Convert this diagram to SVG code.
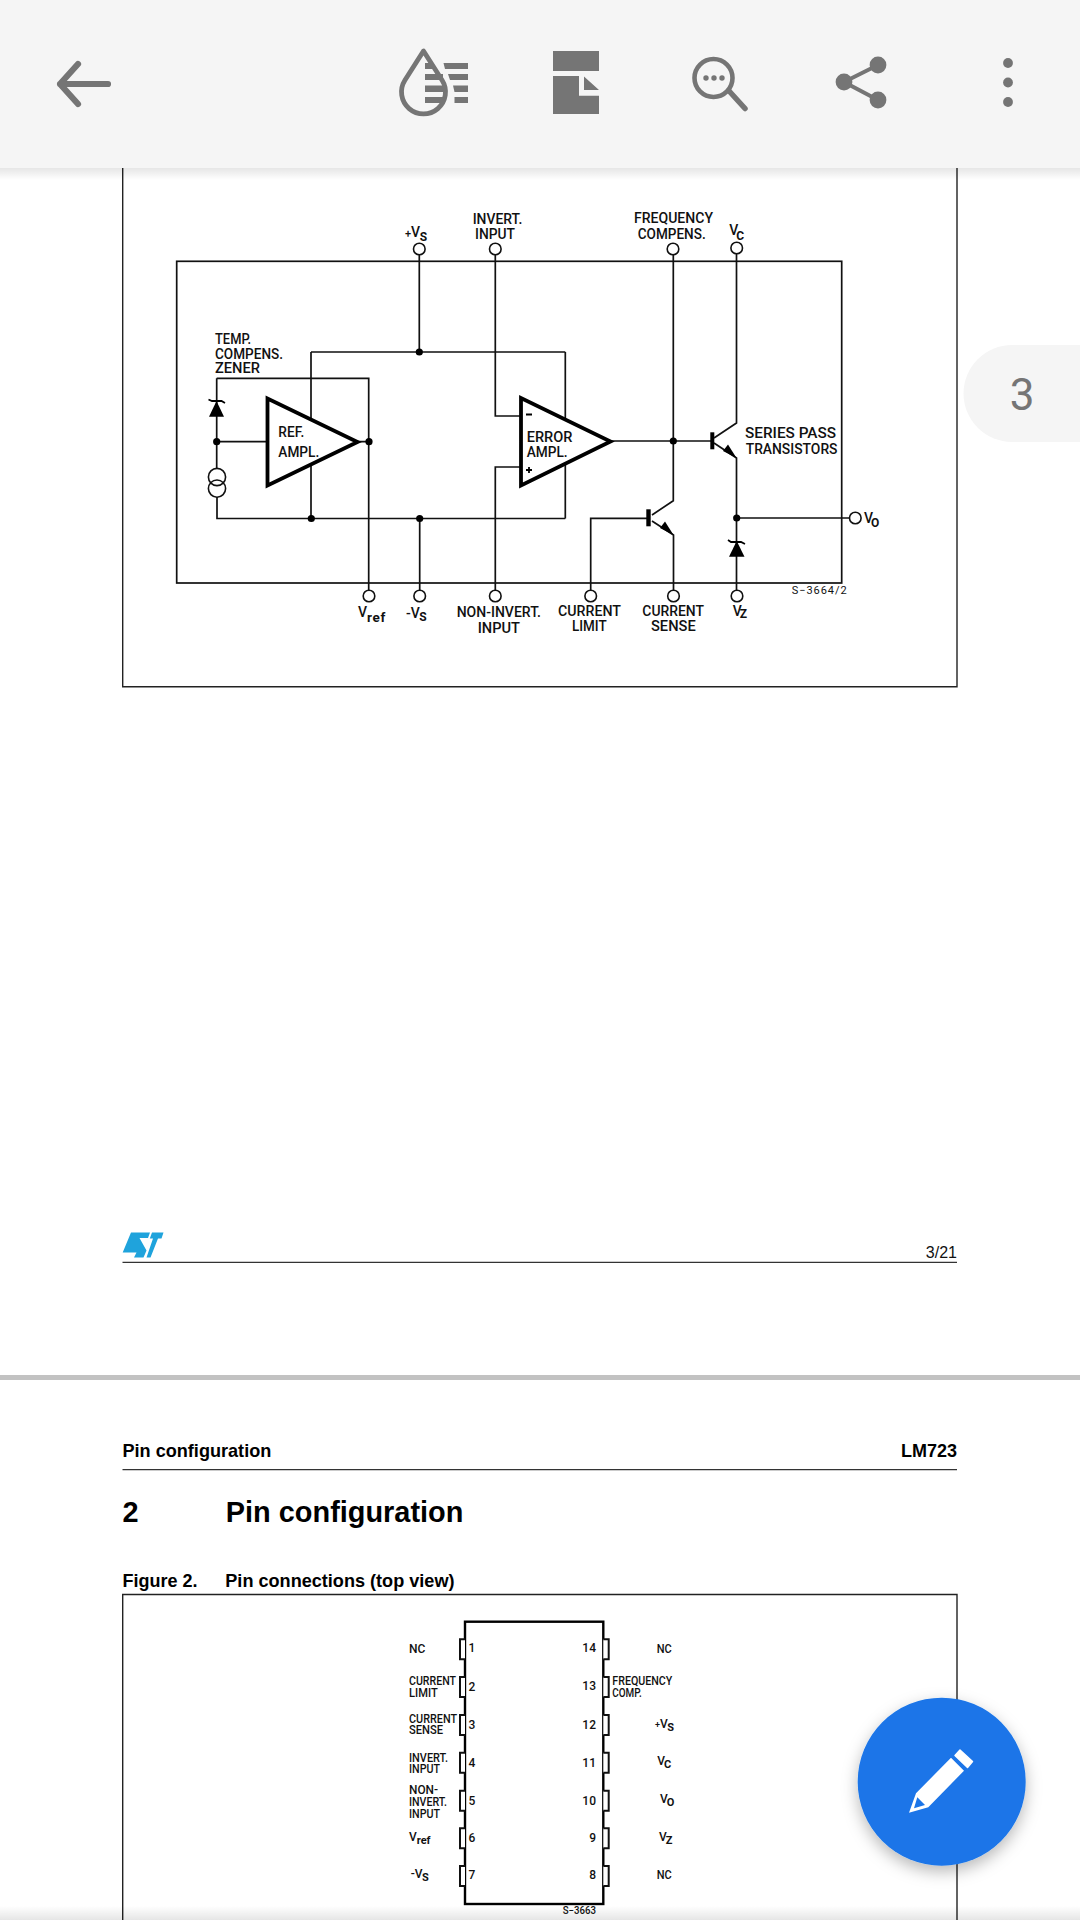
<svg xmlns="http://www.w3.org/2000/svg" width="1080" height="1920" viewBox="0 0 1080 1920">
<style>
.w{fill:none;stroke:#111;stroke-width:1.7}
.f{fill:none;stroke:#222;stroke-width:1.4}
.pin{fill:#fff;stroke:#111;stroke-width:1.6}
.d{fill:#000}
.amp{fill:#fff;stroke:#000;stroke-width:3.8;stroke-linejoin:miter}
.t{font-family:"Roboto","Liberation Sans",sans-serif;font-size:14px;font-weight:500;fill:#111}
.s{font-family:"Roboto","Liberation Sans",sans-serif;font-size:12px;font-weight:500;fill:#111}
.sub{font-size:12px;font-weight:700}
.h{font-family:"Liberation Sans",Arial,sans-serif;font-weight:700;fill:#000}
.ic{fill:#757575}
.is{fill:none;stroke:#757575;stroke-linecap:round}
.tab{fill:#fff;stroke:#111;stroke-width:2}
.chip{fill:#fff;stroke:#000;stroke-width:2.4}
</style>
<defs>
<linearGradient id="g1" x1="0" y1="0" x2="0" y2="1"><stop offset="0" stop-color="#000" stop-opacity=".1"/><stop offset="1" stop-color="#000" stop-opacity="0"/></linearGradient>
<linearGradient id="g2" x1="0" y1="0" x2="0" y2="1"><stop offset="0" stop-color="#000" stop-opacity="0"/><stop offset="1" stop-color="#000" stop-opacity=".1"/></linearGradient>
<filter id="sh" x="-30%" y="-30%" width="160%" height="170%"><feDropShadow dx="0" dy="6" stdDeviation="8" flood-color="#000" flood-opacity=".28"/></filter>
</defs>
<rect width="1080" height="1920" fill="#fff"/>

<g id="page-frames">
<path class="f" d="M122.7 160V686.7H957V160"/>
<path class="f" d="M122.7 1920V1594.5H957V1920"/>
<path d="M122.5 1262.3H957M122.5 1469.7H957" stroke="#333" stroke-width="1.3" fill="none"/>
<rect x="0" y="1375" width="1080" height="5" fill="#c2c2c2"/>
</g>

<g id="connectors">
<rect x="176.7" y="261.3" width="665" height="321.7" class="w"/>
<path class="w" d="M419.3 255V352M311 352H565.3M311 352V518.5M565.3 352V518.5M216.7 378.3H368.7V590M216.7 378.3V468M216.7 441.7H268M217 497V518.5H565.3M419.7 518.5V590M355 441.7H369"/>
<path class="w" d="M495.3 255V416H521M521 467H495.3V590"/>
<path class="w" d="M608 441H712M673.3 255V500.7L652 515M652 521L673.5 535V590M648 518.3H590.7V590"/>
<path class="w" d="M736.5 254V423L714 438M714 443L736.5 458V590M736.5 518H850"/>
<polygon class="d" points="736.5,458 723,451 728,444.5"/>
<polygon class="d" points="673.5,535 660,528 665,521.5"/>
</g>

<g id="ref-ampl">
<polygon class="amp" points="267.5,398.5 267.5,485.5 357.5,442"/>
<text class="t" x="278.3" y="437.3" textLength="26" lengthAdjust="spacingAndGlyphs">REF.</text>
<text class="t" x="278.3" y="456.7" textLength="41" lengthAdjust="spacingAndGlyphs">AMPL.</text>
</g>
<g id="error-ampl">
<polygon class="amp" points="521,398 521,485.5 610.5,441.5"/>
<text class="t" x="526.7" y="442.3" textLength="45.7" lengthAdjust="spacingAndGlyphs">ERROR</text>
<text class="t" x="526.7" y="457.3" textLength="41" lengthAdjust="spacingAndGlyphs">AMPL.</text>
<path d="M526 414.5H532M526 470H532M529 467V473" stroke="#000" stroke-width="1.8" fill="none"/>
</g>

<g id="junctions">
<circle class="d" cx="419.3" cy="352" r="3.6"/>
<circle class="d" cx="216.7" cy="441.7" r="3.6"/>
<circle class="d" cx="369" cy="441.7" r="3.6"/>
<circle class="d" cx="311.3" cy="518.5" r="3.6"/>
<circle class="d" cx="419.7" cy="518.5" r="3.6"/>
<circle class="d" cx="673.3" cy="441" r="3.6"/>
<circle class="d" cx="736.7" cy="518" r="3.6"/>
</g>

<g id="temp-zener">
<polygon class="d" points="216.5,401 209,416.7 224,416.7"/>
<path d="M208.5 399.5L212 401H221.5L225 403" fill="none" stroke="#000" stroke-width="1.8"/>
<circle class="pin" cx="217" cy="477" r="8.6"/>
<circle class="pin" cx="217" cy="488.6" r="8.6" fill-opacity="0"/>
</g>
<g id="vz-zener">
<polygon class="d" points="736.7,541 729,556.7 744.5,556.7"/>
<path d="M728 540L731 542H741L745 544" fill="none" stroke="#000" stroke-width="1.8"/>
</g>
<g id="pass-transistor"><rect x="710.3" y="432.3" width="4" height="17" class="d"/></g>
<g id="sense-transistor"><rect x="646.3" y="509.3" width="4.4" height="17" class="d"/></g>

<g id="pins-top">
<circle class="pin" cx="419.3" cy="249" r="5.8"/><circle class="pin" cx="495.3" cy="249" r="5.8"/><circle class="pin" cx="673" cy="249" r="5.8"/><circle class="pin" cx="736.7" cy="248" r="5.8"/>
<text class="t" x="405" y="236.7"><tspan font-size="11">+</tspan>V<tspan class="sub" dy="4" dx="-.5">S</tspan></text>
<text class="t" x="497.5" y="224" text-anchor="middle" textLength="49.7" lengthAdjust="spacingAndGlyphs">INVERT.</text>
<text class="t" x="495" y="239" text-anchor="middle" textLength="40" lengthAdjust="spacingAndGlyphs">INPUT</text>
<text class="t" x="634" y="222.7" textLength="79" lengthAdjust="spacingAndGlyphs">FREQUENCY</text>
<text class="t" x="637.7" y="239" textLength="68" lengthAdjust="spacingAndGlyphs">COMPENS.</text>
<text class="t" x="729.3" y="235">V<tspan class="sub" dy="5" dx="-2">C</tspan></text>
</g>
<g id="pins-bottom">
<circle class="pin" cx="369" cy="596" r="5.8"/><circle class="pin" cx="419.7" cy="596" r="5.8"/><circle class="pin" cx="495.3" cy="596" r="5.8"/><circle class="pin" cx="590.7" cy="596" r="5.8"/><circle class="pin" cx="673.5" cy="596" r="5.8"/><circle class="pin" cx="737" cy="596" r="5.8"/><circle class="pin" cx="855.3" cy="518" r="5.8"/>
<text class="t" x="358" y="616.7">V<tspan class="sub" dy="5" style="font-size:13.5px" letter-spacing=".7">ref</tspan></text>
<text class="t" x="406" y="618">-V<tspan class="sub" dy="3" dx="-.5">S</tspan></text>
<text class="t" x="456.7" y="617.3" textLength="84.3" lengthAdjust="spacingAndGlyphs">NON-INVERT.</text>
<text class="t" x="477.7" y="633" textLength="42.3" lengthAdjust="spacingAndGlyphs">INPUT</text>
<text class="t" x="558" y="616" textLength="63" lengthAdjust="spacingAndGlyphs">CURRENT</text>
<text class="t" x="572" y="630.7" textLength="34.7" lengthAdjust="spacingAndGlyphs">LIMIT</text>
<text class="t" x="642.3" y="616" textLength="61.7" lengthAdjust="spacingAndGlyphs">CURRENT</text>
<text class="t" x="651" y="630.7" textLength="44.7" lengthAdjust="spacingAndGlyphs">SENSE</text>
<text class="t" x="732.7" y="615.5">V<tspan class="sub" dy="2.5" dx="-2">Z</tspan></text>
<text class="t" x="864" y="523">V<tspan class="sub" dy="4" dx="-2">O</tspan></text>
<text class="t" x="745" y="438.3" textLength="91" lengthAdjust="spacingAndGlyphs">SERIES PASS</text>
<text class="t" x="745.7" y="454.3" textLength="91.8" lengthAdjust="spacingAndGlyphs">TRANSISTORS</text>
<text class="t" x="215" y="344" textLength="36" lengthAdjust="spacingAndGlyphs">TEMP.</text>
<text class="t" x="215" y="359" textLength="68" lengthAdjust="spacingAndGlyphs">COMPENS.</text>
<text class="t" x="215" y="373.3" textLength="45" lengthAdjust="spacingAndGlyphs">ZENER</text>
<text class="s" x="791.7" y="594.3" textLength="55" style="font-size:11px;font-weight:400">S−3664/2</text>
</g>

<g id="page-footer">
<path fill="#1fa3dc" d="M131 1232.5H150L148 1238H139.5L146.5 1250.5L143.5 1257.5H134L136.5 1252.5H122.7ZM152 1232.5H163.5L161.5 1238.5H158L150.5 1257.5H146.5L153 1238.5H149.8Z"/>
<text x="957" y="1257.5" text-anchor="end" font-family="Liberation Sans, Arial, sans-serif" font-size="16" fill="#111">3/21</text>
</g>

<g id="page-header">
<text class="h" x="122.5" y="1457.3" font-size="18.1">Pin configuration</text>
<text class="h" x="957" y="1457.3" font-size="18" text-anchor="end">LM723</text>
<text class="h" x="122.5" y="1521.7" font-size="28.9">2</text>
<text class="h" x="225.8" y="1521.7" font-size="28.9">Pin configuration</text>
<text class="h" x="122.5" y="1587.3" font-size="18">Figure 2.</text>
<text class="h" x="225.3" y="1587.3" font-size="18.1">Pin connections (top view)</text>
</g>

<g id="dip-package">
<rect class="chip" x="465" y="1621.7" width="138.3" height="282.3"/>
<path class="tab" d="M465 1639.3H460V1659.3H465M465 1677H460V1697H465M465 1715H460V1735H465M465 1752.7H460V1772.7H465M465 1790.7H460V1810.7H465M465 1828.3H460V1848.3H465M465 1866H460V1886H465"/>
<path class="tab" d="M603.3 1639.3H608.7V1659.3H603.3M603.3 1677H608.7V1697H603.3M603.3 1715H608.7V1735H603.3M603.3 1752.7H608.7V1772.7H603.3M603.3 1790.7H608.7V1810.7H603.3M603.3 1828.3H608.7V1848.3H603.3M603.3 1866H608.7V1886H603.3"/>
<g text-anchor="middle">
<text class="s" x="472" y="1652.3">1</text><text class="s" x="472" y="1690.7">2</text><text class="s" x="472" y="1729">3</text><text class="s" x="472" y="1766.7">4</text><text class="s" x="472" y="1804.7">5</text><text class="s" x="472" y="1841.7">6</text><text class="s" x="472" y="1879.3">7</text>
</g>
<g text-anchor="end">
<text class="s" x="596" y="1652.3">14</text><text class="s" x="596" y="1690">13</text><text class="s" x="596" y="1729">12</text><text class="s" x="596" y="1766.7">11</text><text class="s" x="596" y="1804.7">10</text><text class="s" x="596" y="1841.7">9</text><text class="s" x="596" y="1879.3">8</text>
</g>
<text class="s" x="409" y="1653.3">NC</text>
<text class="s" x="409" y="1685" textLength="47" lengthAdjust="spacingAndGlyphs">CURRENT</text>
<text class="s" x="409" y="1696.7" textLength="28.7" lengthAdjust="spacingAndGlyphs">LIMIT</text>
<text class="s" x="409" y="1723.3" textLength="48" lengthAdjust="spacingAndGlyphs">CURRENT</text>
<text class="s" x="409" y="1734.3" textLength="34" lengthAdjust="spacingAndGlyphs">SENSE</text>
<text class="s" x="409" y="1761.7" textLength="39" lengthAdjust="spacingAndGlyphs">INVERT.</text>
<text class="s" x="409" y="1773.3" textLength="31" lengthAdjust="spacingAndGlyphs">INPUT</text>
<text class="s" x="409" y="1794" textLength="29" lengthAdjust="spacingAndGlyphs">NON-</text>
<text class="s" x="409" y="1805.7" textLength="38" lengthAdjust="spacingAndGlyphs">INVERT.</text>
<text class="s" x="409" y="1817.7" textLength="31" lengthAdjust="spacingAndGlyphs">INPUT</text>
<text class="s" x="409" y="1841">V<tspan class="sub" dy="3" style="font-size:11px">ref</tspan></text>
<text class="s" x="410.7" y="1877.5">-V<tspan class="sub" dy="3" dx="-.5" style="font-size:11px">S</tspan></text>
<text class="s" x="656.7" y="1652.7" textLength="15" lengthAdjust="spacingAndGlyphs">NC</text>
<text class="s" x="612.3" y="1685" textLength="60" lengthAdjust="spacingAndGlyphs">FREQUENCY</text>
<text class="s" x="612.3" y="1697.3" textLength="29.4" lengthAdjust="spacingAndGlyphs">COMP.</text>
<text class="s" x="655" y="1727.5"><tspan style="font-size:9px">+</tspan>V<tspan class="sub" dy="3" dx="-.5" style="font-size:11px">S</tspan></text>
<text class="s" x="657.3" y="1765">V<tspan class="sub" dy="3" dx="-1" style="font-size:11px">C</tspan></text>
<text class="s" x="660" y="1803">V<tspan class="sub" dy="3" dx="-1" style="font-size:11px">O</tspan></text>
<text class="s" x="659" y="1841">V<tspan class="sub" dy="3" dx="-1" style="font-size:11px">Z</tspan></text>
<text class="s" x="656.7" y="1879.3" textLength="15" lengthAdjust="spacingAndGlyphs">NC</text>
</g>

<g id="bottom-fade"><rect x="0" y="1906" width="1080" height="14" fill="url(#g2)"/></g>
<text class="s" x="562.7" y="1914" textLength="33.3" lengthAdjust="spacingAndGlyphs" style="font-size:10px">S−3663</text>

<g id="page-badge">
<path d="M1080 345H1012A48.5 48.5 0 0 0 1012 442H1080Z" fill="#f5f5f5"/>
<text x="1022" y="410" text-anchor="middle" font-family="Roboto, sans-serif" font-size="44" fill="#757575">3</text>
</g>

<g id="toolbar">
<rect x="0" y="168" width="1080" height="12" fill="url(#g1)"/>
<rect x="0" y="0" width="1080" height="168" fill="#f5f5f5"/>
<path class="is" stroke-width="6.2" stroke-linejoin="round" d="M78 64L60 84L78 104M60 84H108"/>
<path class="is" stroke-width="4.8" stroke-linejoin="round" d="M423.5 51L404.9 80.2A22 22 0 1 0 442.1 80.2Z"/>
<path class="ic" d="M425 63H433V69H425ZM425 74H443V80H425ZM425 85.5H445V92H425ZM425 97H445V103H425ZM443.5 63H468V69H445ZM448 74H468V80H450ZM453 85.5H468V92H454.5ZM454.5 97H468V103H454.5Z"/>
<path class="ic" d="M553 51H599V71H553ZM553 76H579V95.7H599V114H553ZM584 76.5L599 90H584Z"/>
<circle class="is" cx="713.5" cy="78" r="19" stroke-width="4.6"/>
<path class="is" stroke-width="5.5" d="M730 92L745 108.5"/>
<circle class="ic" cx="706" cy="78" r="2.7"/><circle class="ic" cx="714" cy="78" r="2.7"/><circle class="ic" cx="722" cy="78" r="2.7"/>
<path class="is" stroke-width="4" d="M878 65L844 82L878 100"/>
<circle class="ic" cx="878" cy="65" r="8.4"/><circle class="ic" cx="844" cy="82" r="8.4"/><circle class="ic" cx="878" cy="100" r="8.4"/>
<circle class="ic" cx="1008" cy="63" r="4.9"/><circle class="ic" cx="1008" cy="82.5" r="4.9"/><circle class="ic" cx="1008" cy="102" r="4.9"/>
</g>

<g id="edit-fab">
<circle cx="941.7" cy="1781.7" r="84" fill="#1a75e8" filter="url(#sh)"/>
<path fill="#fff" fill-rule="evenodd" d="M909 1812.7L916 1793.3L951 1757.7L964 1770.7L928.3 1807.3ZM917.3 1797.3L914 1808.3L925 1805Z"/>
<path fill="#fff" stroke="#fff" stroke-width="1.5" stroke-linejoin="round" d="M960 1750L972.5 1761.5L967.5 1767.5L955 1755.5Z"/>
</g>
</svg>
